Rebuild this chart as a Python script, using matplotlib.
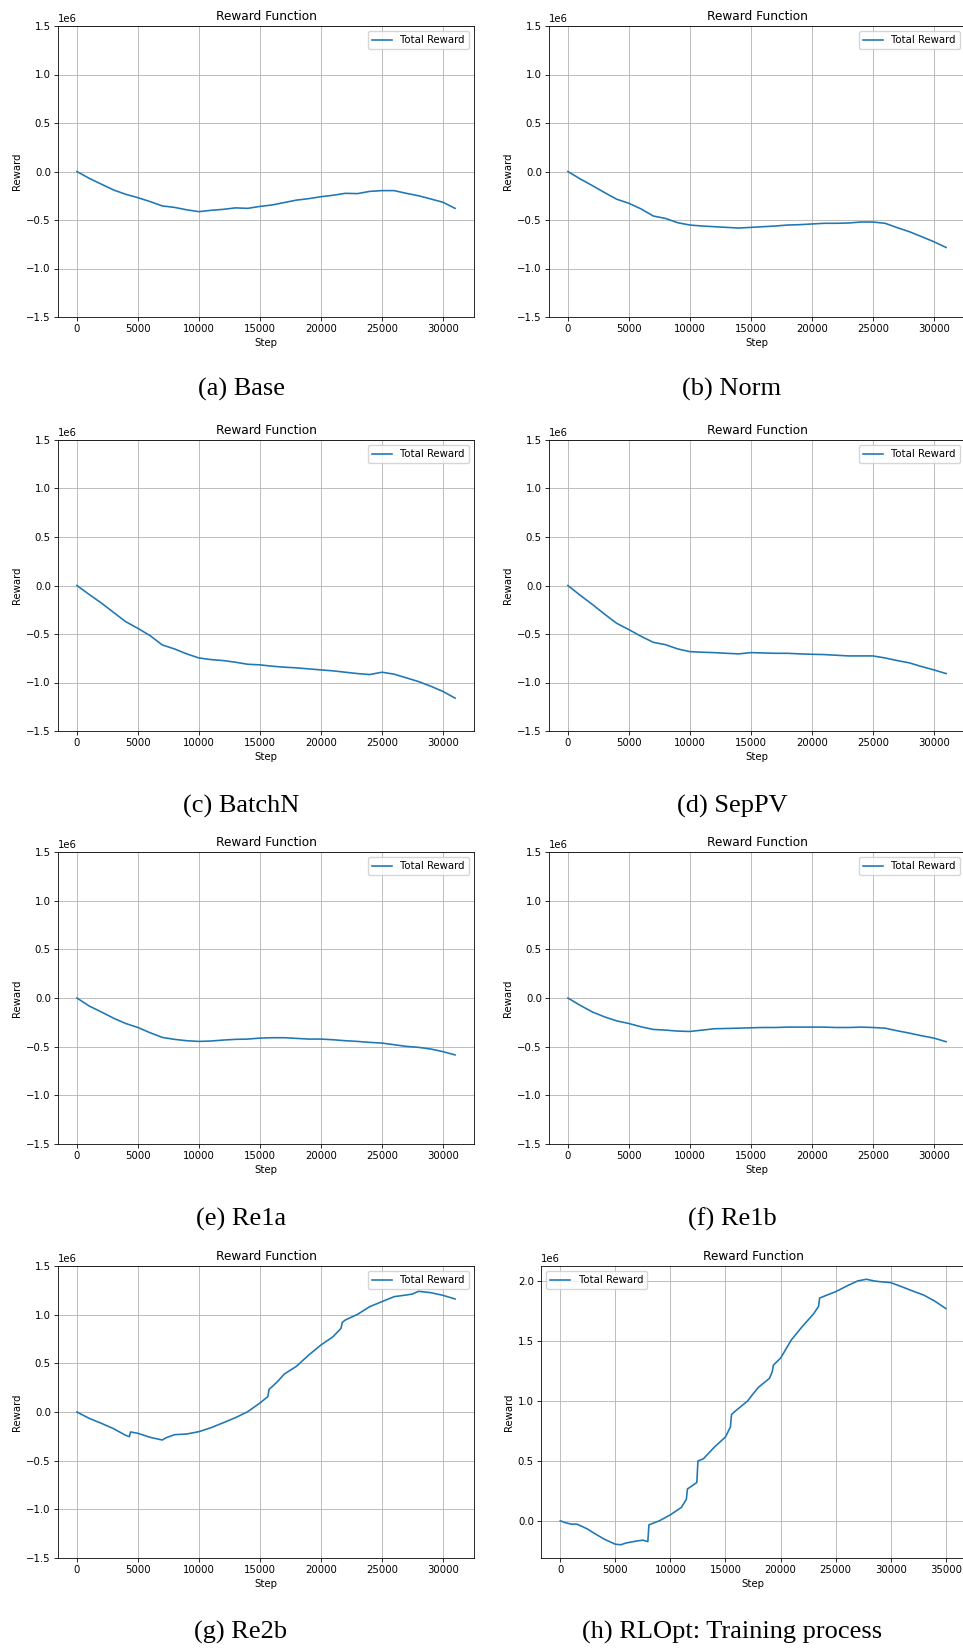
import numpy as np
import matplotlib.pyplot as plt

# steps sampled every 1000 for the 31k-step runs
steps_31k = list(range(0, 32000, 1000))

# rewards in units of 1e6
base = [0.0, -0.07, -0.13, -0.19, -0.235, -0.27, -0.31, -0.355, -0.37, -0.395, -0.414,
        -0.40, -0.39, -0.375, -0.38, -0.36, -0.345, -0.32, -0.295, -0.28, -0.26,
        -0.245, -0.225, -0.228, -0.205, -0.197, -0.197, -0.225, -0.25, -0.283, -0.317, -0.38]
norm = [0.0, -0.076, -0.145, -0.217, -0.286, -0.328, -0.386, -0.459, -0.484, -0.528, -0.552,
        -0.562, -0.569, -0.576, -0.583, -0.576, -0.569, -0.562, -0.552, -0.548, -0.541,
        -0.534, -0.534, -0.531, -0.521, -0.521, -0.534, -0.579, -0.621, -0.672, -0.724, -0.783]
batchn = [0.0, -0.092, -0.18, -0.277, -0.373, -0.442, -0.517, -0.613, -0.654, -0.705, -0.747,
          -0.764, -0.774, -0.791, -0.812, -0.818, -0.832, -0.842, -0.849, -0.86, -0.87,
          -0.88, -0.894, -0.908, -0.918, -0.894, -0.914, -0.952, -0.99, -1.038, -1.092, -1.161]
seppv = [0.0, -0.10, -0.195, -0.295, -0.39, -0.455, -0.524, -0.586, -0.61, -0.654, -0.682,
         -0.688, -0.692, -0.699, -0.705, -0.692, -0.695, -0.699, -0.699, -0.705, -0.709,
         -0.712, -0.719, -0.726, -0.726, -0.726, -0.747, -0.774, -0.798, -0.836, -0.87, -0.908]
re1a = [0.0, -0.082, -0.143, -0.207, -0.262, -0.303, -0.357, -0.405, -0.425, -0.439, -0.446,
        -0.442, -0.432, -0.425, -0.422, -0.412, -0.408, -0.408, -0.415, -0.422, -0.422,
        -0.429, -0.439, -0.446, -0.456, -0.463, -0.48, -0.497, -0.507, -0.524, -0.551, -0.585]
re1b = [0.0, -0.075, -0.143, -0.194, -0.235, -0.262, -0.296, -0.323, -0.33, -0.34, -0.344,
        -0.33, -0.316, -0.313, -0.31, -0.306, -0.303, -0.303, -0.299, -0.299, -0.299,
        -0.299, -0.303, -0.303, -0.299, -0.303, -0.31, -0.337, -0.361, -0.388, -0.412, -0.449]

re2b_steps = [0, 1000, 2000, 3000, 4000, 4300, 4400, 5000, 6000, 7000, 7300, 8000, 9000,
              10000, 11000, 12000, 13000, 14000, 15000, 15650, 15750, 16000, 16500, 17000,
              18000, 19000, 20000, 21000, 21650, 21750, 22000, 23000, 24000, 25000, 26000,
              27000, 27500, 28000, 29000, 30000, 31000]
re2b = [0.0, -0.065, -0.116, -0.171, -0.24, -0.253, -0.205, -0.219, -0.26, -0.288, -0.265,
        -0.233, -0.226, -0.202, -0.161, -0.11, -0.058, 0.003, 0.092, 0.158, 0.233, 0.26,
        0.32, 0.39, 0.47, 0.585, 0.688, 0.774, 0.86, 0.92, 0.945, 1.003, 1.082, 1.134,
        1.185, 1.202, 1.212, 1.24, 1.226, 1.199, 1.161]

rlopt_steps = [0, 500, 1000, 1500, 2000, 2500, 3000, 4000, 5000, 5500, 6000, 7000, 7500,
               7950, 8050, 9000, 10000, 11000, 11450, 11550, 12000, 12400, 12500, 13000,
               14000, 15000, 15450, 15550, 16000, 17000, 17500, 18000, 19000, 19250, 19350,
               20000, 21000, 22000, 23000, 23450, 23550, 24000, 25000, 26000, 27000, 27800,
               28500, 29000, 30000, 31000, 32000, 33000, 34000, 35000]
rlopt = [0.0, -0.017, -0.028, -0.028, -0.048, -0.07, -0.10, -0.154, -0.196, -0.20, -0.185,
         -0.168, -0.162, -0.174, -0.034, 0.0, 0.05, 0.112, 0.18, 0.266, 0.294, 0.32, 0.499,
         0.518, 0.616, 0.70, 0.784, 0.888, 0.924, 1.0, 1.059, 1.115, 1.19, 1.246, 1.30,
         1.358, 1.513, 1.625, 1.728, 1.79, 1.86, 1.877, 1.913, 1.96, 2.003, 2.017, 2.003,
         1.997, 1.989, 1.955, 1.919, 1.885, 1.835, 1.773]

captions = ["(a) Base", "(b) Norm", "(c) BatchN", "(d) SepPV",
            "(e) Re1a", "(f) Re1b", "(g) Re2b", "(h) RLOpt: Training process"]

panels = [(steps_31k, base), (steps_31k, norm), (steps_31k, batchn), (steps_31k, seppv),
          (steps_31k, re1a), (steps_31k, re1b), (re2b_steps, re2b), (rlopt_steps, rlopt)]

s = 0.73  # the original plots were shrunk
plt.rcParams.update({
    'font.size': 10 * s,
    'axes.titlesize': 12 * s,
    'axes.linewidth': 0.8 * s,
    'grid.linewidth': 0.8 * s,
    'xtick.major.width': 0.8 * s,
    'ytick.major.width': 0.8 * s,
    'xtick.major.size': 3.5 * s,
    'ytick.major.size': 3.5 * s,
    'xtick.major.pad': 3.5 * s,
    'ytick.major.pad': 3.5 * s,
    'axes.titlepad': 6 * s,
    'axes.labelpad': 4 * s,
    'legend.fontsize': 10 * s,
})

W, H = 963, 1650
fig = plt.figure(figsize=(W / 100, H / 100), dpi=100)

col_left = [58, 549]
col_right = [474, 965]
row_top = [26, 440, 852, 1266]
row_bot = [317, 731, 1144, 1558]
cap_x = [241, 732]
cap_y = [389, 806, 1219, 1632]

for i, ((x, y), cap) in enumerate(zip(panels, captions)):
    r, c = divmod(i, 2)
    left = col_left[c]
    if i == 7:
        left = 541
    ax = fig.add_axes([left / W, 1 - row_bot[r] / H,
                       (col_right[c] - left) / W, (row_bot[r] - row_top[r]) / H])
    ax.plot(x, np.array(y) * 1e6, color='#1f77b4', linewidth=1.6 * s, label='Total Reward')
    if i < 7:
        ax.set_ylim(-1.5e6, 1.5e6)
        ax.legend(loc='upper right')
    else:
        ax.legend(loc='upper left')
    ax.set_title('Reward Function')
    ax.set_xlabel('Step')
    ax.set_ylabel('Reward')
    ax.grid(True)
    fig.text(cap_x[c] / W, 1 - cap_y[r] / H, cap, ha='center', va='center',
             fontsize=19, family='Liberation Serif')

fig.savefig('out.png', dpi=100)
